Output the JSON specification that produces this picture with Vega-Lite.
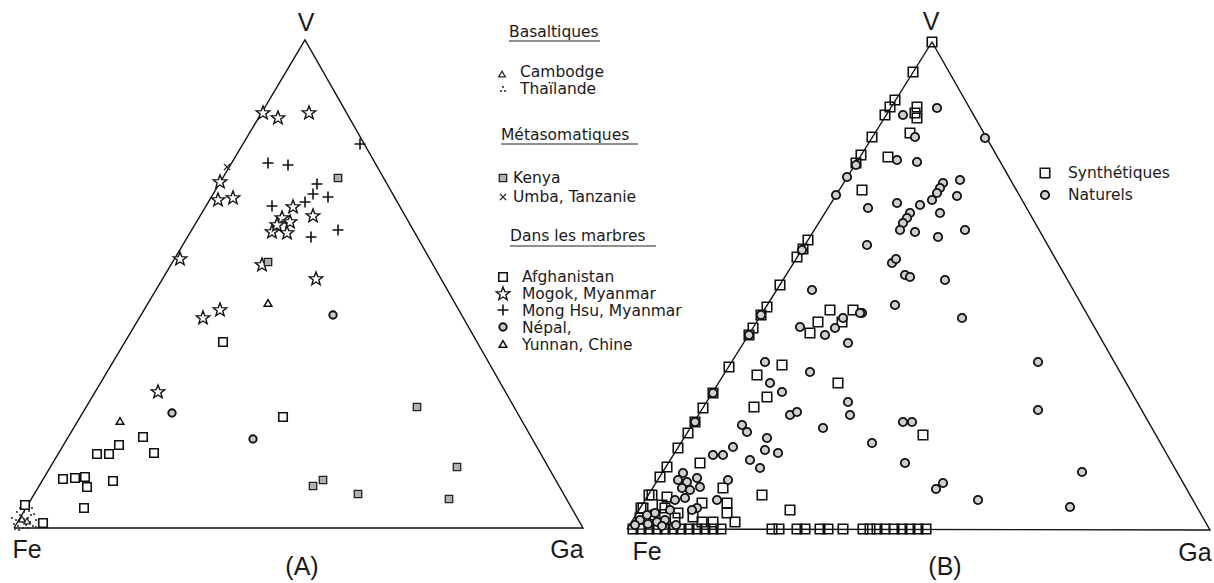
{
"$schema": "https://vega.github.io/schema/vega-lite/v6.json",
"width": 1214, "height": 583,
"autosize": {"type": "fit", "contains": "padding"},
"padding": 0,
"background": "white",
"config": {"view": {"stroke": null}},
"datasets": {
"tri": [
{"tri":"A","o":0,"x":14,"y":528},{"tri":"A","o":1,"x":305,"y":40},{"tri":"A","o":2,"x":583,"y":528},{"tri":"A","o":3,"x":14,"y":528},
{"tri":"B","o":0,"x":627,"y":529},{"tri":"B","o":1,"x":932,"y":42},{"tri":"B","o":2,"x":1210,"y":530},{"tri":"B","o":3,"x":627,"y":529}
],
"pts": [
{"x":16,"y":520,"s":"thai"},{"x":20,"y":515,"s":"thai"},{"x":24,"y":512,"s":"thai"},{"x":28,"y":518,"s":"thai"},{"x":32,"y":508,"s":"thai"},{"x":18,"y":526,"s":"thai"},{"x":22,"y":522,"s":"thai"},{"x":26,"y":525,"s":"thai"},{"x":30,"y":522,"s":"thai"},{"x":34,"y":514,"s":"thai"},{"x":14,"y":524,"s":"thai"},{"x":36,"y":520,"s":"thai"},{"x":20,"y":508,"s":"thai"},{"x":28,"y":528,"s":"thai"},{"x":12,"y":518,"s":"thai"},{"x":24,"y":519,"s":"thai"},{"x":33,"y":526,"s":"thai"},{"x":17,"y":512,"s":"thai"},{"x":31,"y":515,"s":"thai"},{"x":19,"y":530,"s":"thai"},{"x":25,"y":506,"s":"thai"},{"x":36,"y":527,"s":"thai"},{"x":21,"y":517,"s":"thai"},{"x":29,"y":511,"s":"thai"},{"x":15,"y":529,"s":"thai"},{"x":23,"y":528,"s":"thai"},
{"x":501,"y":91,"s":"thai"},{"x":505,"y":91,"s":"thai"},{"x":503,"y":87,"s":"thai"},
{"x":22,"y":519,"s":"camb"},{"x":27,"y":521,"s":"camb"},{"x":502,"y":74,"s":"camb"},
{"x":223,"y":342,"s":"afg"},{"x":283,"y":417,"s":"afg"},{"x":143,"y":437,"s":"afg"},{"x":154,"y":453,"s":"afg"},{"x":119,"y":445,"s":"afg"},{"x":109,"y":454,"s":"afg"},{"x":97,"y":454,"s":"afg"},{"x":63,"y":479,"s":"afg"},{"x":75,"y":478,"s":"afg"},{"x":85,"y":477,"s":"afg"},{"x":87,"y":487,"s":"afg"},{"x":113,"y":481,"s":"afg"},{"x":84,"y":508,"s":"afg"},{"x":25,"y":505,"s":"afg"},{"x":43,"y":523,"s":"afg"},{"x":503,"y":277,"s":"afg"},
{"x":263,"y":113,"s":"mogok"},{"x":278,"y":118,"s":"mogok"},{"x":309,"y":113,"s":"mogok"},{"x":220,"y":182,"s":"mogok"},{"x":218,"y":200,"s":"mogok"},{"x":233,"y":198,"s":"mogok"},{"x":293,"y":207,"s":"mogok"},{"x":282,"y":218,"s":"mogok"},{"x":290,"y":222,"s":"mogok"},{"x":313,"y":216,"s":"mogok"},{"x":272,"y":232,"s":"mogok"},{"x":287,"y":233,"s":"mogok"},{"x":277,"y":225,"s":"mogok"},{"x":180,"y":259,"s":"mogok"},{"x":262,"y":265,"s":"mogok"},{"x":316,"y":279,"s":"mogok"},{"x":220,"y":310,"s":"mogok"},{"x":203,"y":318,"s":"mogok"},{"x":158,"y":392,"s":"mogok"},{"x":503,"y":294,"s":"mogok"},
{"x":268,"y":163,"s":"monghsu"},{"x":288,"y":165,"s":"monghsu"},{"x":317,"y":184,"s":"monghsu"},{"x":313,"y":194,"s":"monghsu"},{"x":328,"y":197,"s":"monghsu"},{"x":305,"y":202,"s":"monghsu"},{"x":272,"y":206,"s":"monghsu"},{"x":311,"y":237,"s":"monghsu"},{"x":338,"y":230,"s":"monghsu"},{"x":360,"y":144,"s":"monghsu"},{"x":503,"y":310,"s":"monghsu"},
{"x":227,"y":167,"s":"umba"},{"x":503,"y":197,"s":"umba"},
{"x":338,"y":178,"s":"kenya"},{"x":268,"y":262,"s":"kenya"},{"x":417,"y":407,"s":"kenya"},{"x":323,"y":480,"s":"kenya"},{"x":313,"y":486,"s":"kenya"},{"x":358,"y":494,"s":"kenya"},{"x":457,"y":467,"s":"kenya"},{"x":449,"y":499,"s":"kenya"},{"x":503,"y":178,"s":"kenya"},
{"x":333,"y":315,"s":"nepal"},{"x":172,"y":413,"s":"nepal"},{"x":253,"y":439,"s":"nepal"},{"x":503,"y":327,"s":"nepal"},
{"x":268,"y":303,"s":"yunnan"},{"x":120,"y":421,"s":"yunnan"},{"x":503,"y":344,"s":"yunnan"},

{"x":932,"y":42,"s":"syn"},{"x":913,"y":72,"s":"syn"},{"x":895,"y":100,"s":"syn"},{"x":890,"y":107,"s":"syn"},{"x":885,"y":115,"s":"syn"},{"x":872,"y":137,"s":"syn"},{"x":861,"y":155,"s":"syn"},{"x":856,"y":163,"s":"syn"},{"x":808,"y":240,"s":"syn"},{"x":803,"y":249,"s":"syn"},{"x":797,"y":257,"s":"syn"},{"x":780,"y":285,"s":"syn"},{"x":767,"y":307,"s":"syn"},{"x":761,"y":315,"s":"syn"},{"x":753,"y":328,"s":"syn"},{"x":749,"y":335,"s":"syn"},{"x":729,"y":367,"s":"syn"},{"x":713,"y":393,"s":"syn"},{"x":703,"y":408,"s":"syn"},{"x":695,"y":422,"s":"syn"},{"x":688,"y":433,"s":"syn"},{"x":678,"y":448,"s":"syn"},{"x":667,"y":467,"s":"syn"},{"x":660,"y":477,"s":"syn"},{"x":649,"y":495,"s":"syn"},{"x":641,"y":508,"s":"syn"},
{"x":915,"y":113,"s":"syn"},{"x":917,"y":107,"s":"syn"},{"x":917,"y":118,"s":"syn"},{"x":910,"y":133,"s":"syn"},{"x":888,"y":157,"s":"syn"},{"x":862,"y":190,"s":"syn"},{"x":830,"y":310,"s":"syn"},{"x":818,"y":322,"s":"syn"},{"x":842,"y":322,"s":"syn"},{"x":810,"y":333,"s":"syn"},{"x":853,"y":310,"s":"syn"},{"x":782,"y":365,"s":"syn"},{"x":757,"y":375,"s":"syn"},{"x":767,"y":397,"s":"syn"},{"x":754,"y":407,"s":"syn"},{"x":838,"y":383,"s":"syn"},{"x":923,"y":435,"s":"syn"},{"x":700,"y":463,"s":"syn"},{"x":723,"y":488,"s":"syn"},{"x":727,"y":503,"s":"syn"},{"x":727,"y":513,"s":"syn"},{"x":735,"y":522,"s":"syn"},{"x":762,"y":495,"s":"syn"},{"x":790,"y":510,"s":"syn"},{"x":702,"y":503,"s":"syn"},{"x":667,"y":497,"s":"syn"},{"x":665,"y":508,"s":"syn"},
{"x":652,"y":495,"s":"syn"},{"x":643,"y":508,"s":"syn"},{"x":662,"y":505,"s":"syn"},{"x":678,"y":513,"s":"syn"},{"x":693,"y":517,"s":"syn"},{"x":702,"y":522,"s":"syn"},{"x":713,"y":522,"s":"syn"},{"x":675,"y":518,"s":"syn"},{"x":640,"y":518,"s":"syn"},{"x":655,"y":515,"s":"syn"},
{"x":633,"y":529,"s":"syn"},{"x":641,"y":529,"s":"syn"},{"x":649,"y":529,"s":"syn"},{"x":657,"y":529,"s":"syn"},{"x":665,"y":529,"s":"syn"},{"x":673,"y":529,"s":"syn"},{"x":681,"y":529,"s":"syn"},{"x":689,"y":529,"s":"syn"},{"x":697,"y":529,"s":"syn"},{"x":705,"y":529,"s":"syn"},{"x":713,"y":529,"s":"syn"},{"x":721,"y":529,"s":"syn"},
{"x":772,"y":529,"s":"syn"},{"x":779,"y":529,"s":"syn"},{"x":797,"y":529,"s":"syn"},{"x":805,"y":529,"s":"syn"},{"x":820,"y":529,"s":"syn"},{"x":828,"y":529,"s":"syn"},{"x":843,"y":529,"s":"syn"},{"x":863,"y":529,"s":"syn"},{"x":870,"y":529,"s":"syn"},{"x":877,"y":529,"s":"syn"},{"x":885,"y":529,"s":"syn"},{"x":894,"y":529,"s":"syn"},{"x":902,"y":529,"s":"syn"},{"x":910,"y":529,"s":"syn"},{"x":918,"y":529,"s":"syn"},{"x":926,"y":529,"s":"syn"},
{"x":1045,"y":173,"s":"syn"},

{"x":856,"y":165,"s":"nat"},{"x":847,"y":177,"s":"nat"},{"x":836,"y":195,"s":"nat"},{"x":802,"y":250,"s":"nat"},{"x":761,"y":315,"s":"nat"},{"x":749,"y":335,"s":"nat"},{"x":713,"y":393,"s":"nat"},{"x":695,"y":422,"s":"nat"},
{"x":903,"y":115,"s":"nat"},{"x":937,"y":108,"s":"nat"},{"x":915,"y":137,"s":"nat"},{"x":897,"y":160,"s":"nat"},{"x":917,"y":162,"s":"nat"},{"x":985,"y":138,"s":"nat"},{"x":960,"y":180,"s":"nat"},{"x":943,"y":183,"s":"nat"},{"x":940,"y":188,"s":"nat"},{"x":937,"y":193,"s":"nat"},{"x":932,"y":200,"s":"nat"},{"x":957,"y":196,"s":"nat"},{"x":868,"y":208,"s":"nat"},{"x":897,"y":203,"s":"nat"},{"x":920,"y":205,"s":"nat"},{"x":940,"y":213,"s":"nat"},{"x":910,"y":213,"s":"nat"},{"x":907,"y":218,"s":"nat"},{"x":903,"y":223,"s":"nat"},{"x":900,"y":230,"s":"nat"},{"x":915,"y":232,"s":"nat"},{"x":938,"y":237,"s":"nat"},{"x":965,"y":230,"s":"nat"},{"x":867,"y":245,"s":"nat"},{"x":892,"y":263,"s":"nat"},{"x":896,"y":259,"s":"nat"},{"x":905,"y":275,"s":"nat"},{"x":910,"y":277,"s":"nat"},{"x":945,"y":280,"s":"nat"},{"x":895,"y":305,"s":"nat"},{"x":862,"y":313,"s":"nat"},{"x":962,"y":318,"s":"nat"},{"x":1038,"y":362,"s":"nat"},{"x":1038,"y":410,"s":"nat"},{"x":903,"y":422,"s":"nat"},{"x":912,"y":422,"s":"nat"},{"x":872,"y":443,"s":"nat"},{"x":905,"y":463,"s":"nat"},{"x":943,"y":483,"s":"nat"},{"x":936,"y":489,"s":"nat"},{"x":978,"y":500,"s":"nat"},{"x":1082,"y":472,"s":"nat"},{"x":1070,"y":507,"s":"nat"},
{"x":812,"y":290,"s":"nat"},{"x":800,"y":327,"s":"nat"},{"x":825,"y":335,"s":"nat"},{"x":835,"y":328,"s":"nat"},{"x":843,"y":318,"s":"nat"},{"x":860,"y":313,"s":"nat"},{"x":848,"y":343,"s":"nat"},{"x":765,"y":362,"s":"nat"},{"x":810,"y":372,"s":"nat"},{"x":770,"y":383,"s":"nat"},{"x":782,"y":392,"s":"nat"},{"x":790,"y":415,"s":"nat"},{"x":797,"y":412,"s":"nat"},{"x":848,"y":402,"s":"nat"},{"x":850,"y":415,"s":"nat"},{"x":823,"y":428,"s":"nat"},{"x":742,"y":425,"s":"nat"},{"x":747,"y":432,"s":"nat"},{"x":767,"y":438,"s":"nat"},{"x":713,"y":455,"s":"nat"},{"x":723,"y":455,"s":"nat"},{"x":733,"y":447,"s":"nat"},{"x":765,"y":450,"s":"nat"},{"x":778,"y":453,"s":"nat"},{"x":750,"y":460,"s":"nat"},{"x":760,"y":468,"s":"nat"},
{"x":678,"y":480,"s":"nat"},{"x":687,"y":482,"s":"nat"},{"x":682,"y":488,"s":"nat"},{"x":690,"y":490,"s":"nat"},{"x":697,"y":478,"s":"nat"},{"x":700,"y":487,"s":"nat"},{"x":685,"y":498,"s":"nat"},{"x":675,"y":500,"s":"nat"},{"x":670,"y":510,"s":"nat"},{"x":655,"y":513,"s":"nat"},{"x":647,"y":515,"s":"nat"},{"x":640,"y":520,"s":"nat"},{"x":657,"y":522,"s":"nat"},{"x":665,"y":520,"s":"nat"},{"x":697,"y":508,"s":"nat"},{"x":717,"y":500,"s":"nat"},{"x":728,"y":480,"s":"nat"},{"x":692,"y":510,"s":"nat"},{"x":683,"y":473,"s":"nat"},{"x":648,"y":524,"s":"nat"},{"x":662,"y":526,"s":"nat"},{"x":676,"y":525,"s":"nat"},{"x":635,"y":525,"s":"nat"},
{"x":1045,"y":195,"s":"nat"}
],
"vlabels": [
{"x":27,"y":550,"t":"Fe"},{"x":567,"y":550,"t":"Ga"},{"x":306,"y":23,"t":"V"},{"x":302,"y":567,"t":"(A)"},
{"x":647,"y":552,"t":"Fe"},{"x":1195,"y":553,"t":"Ga"},{"x":931,"y":22,"t":"V"},{"x":945,"y":567,"t":"(B)"}
],
"legtext": [
{"x":509,"y":32,"t":"Basaltiques"},{"x":520,"y":72,"t":"Cambodge"},{"x":520,"y":89,"t":"Thaïlande"},
{"x":501,"y":135,"t":"Métasomatiques"},{"x":513,"y":178,"t":"Kenya"},{"x":513,"y":197,"t":"Umba, Tanzanie"},
{"x":510,"y":236,"t":"Dans les marbres"},{"x":522,"y":277,"t":"Afghanistan"},{"x":522,"y":294,"t":"Mogok, Myanmar"},{"x":522,"y":311,"t":"Mong Hsu, Myanmar"},{"x":522,"y":328,"t":"Népal,"},{"x":522,"y":345,"t":"Yunnan, Chine"},
{"x":1068,"y":173,"t":"Synthétiques"},{"x":1068,"y":195,"t":"Naturels"}
],
"underlines": [
{"x":509,"x2":600,"y":41},{"x":501,"x2":638,"y":144},{"x":510,"x2":656,"y":246}
]
},
"layer": [
{
"data": {"name": "tri"},
"mark": {"type": "line", "stroke": "#111", "strokeWidth": 1.4},
"encoding": {
"x": {"field": "x", "type": "quantitative", "scale": {"domain": [0, 1214], "nice": false, "zero": false}, "axis": null},
"y": {"field": "y", "type": "quantitative", "scale": {"domain": [0, 583], "reverse": true, "nice": false, "zero": false}, "axis": null},
"detail": {"field": "tri"},
"order": {"field": "o", "type": "quantitative"}
}
},
{
"data": {"name": "underlines"},
"mark": {"type": "rule", "stroke": "#222", "strokeWidth": 1.2},
"encoding": {"x": {"field": "x", "type": "quantitative"}, "x2": {"field": "x2"}, "y": {"field": "y", "type": "quantitative"}}
},
{
"data": {"name": "pts"}, "transform": [{"filter": "datum.s == 'thai'"}],
"mark": {"type": "point", "shape": "circle", "size": 5, "filled": true, "fill": "#333", "strokeWidth": 0, "opacity": 1},
"encoding": {"x": {"field": "x", "type": "quantitative"}, "y": {"field": "y", "type": "quantitative"}}
},
{
"data": {"name": "pts"}, "transform": [{"filter": "datum.s == 'camb'"}],
"mark": {"type": "point", "shape": "triangle-up", "size": 45, "fill": "white", "stroke": "#222", "strokeWidth": 1.2, "opacity": 1},
"encoding": {"x": {"field": "x", "type": "quantitative"}, "y": {"field": "y", "type": "quantitative"}}
},
{
"data": {"name": "pts"}, "transform": [{"filter": "datum.s == 'afg'"}],
"mark": {"type": "point", "shape": "square", "size": 72, "fill": "white", "stroke": "#111", "strokeWidth": 1.6, "opacity": 1},
"encoding": {"x": {"field": "x", "type": "quantitative"}, "y": {"field": "y", "type": "quantitative"}}
},
{
"data": {"name": "pts"}, "transform": [{"filter": "datum.s == 'mogok'"}],
"mark": {"type": "point", "shape": "M0,-1L0.247,-0.34L0.951,-0.309L0.4,0.13L0.588,0.809L0,0.42L-0.588,0.809L-0.4,0.13L-0.951,-0.309L-0.247,-0.34Z", "size": 200, "fill": "white", "stroke": "#111", "strokeWidth": 1.4, "opacity": 1},
"encoding": {"x": {"field": "x", "type": "quantitative"}, "y": {"field": "y", "type": "quantitative"}}
},
{
"data": {"name": "pts"}, "transform": [{"filter": "datum.s == 'monghsu'"}],
"mark": {"type": "point", "shape": "M-1,0L1,0M0,-1L0,1", "size": 120, "fill": "transparent", "stroke": "#111", "strokeWidth": 1.6, "opacity": 1},
"encoding": {"x": {"field": "x", "type": "quantitative"}, "y": {"field": "y", "type": "quantitative"}}
},
{
"data": {"name": "pts"}, "transform": [{"filter": "datum.s == 'umba'"}],
"mark": {"type": "point", "shape": "M-0.8,-0.8L0.8,0.8M-0.8,0.8L0.8,-0.8", "size": 60, "fill": "transparent", "stroke": "#222", "strokeWidth": 1.3, "opacity": 1},
"encoding": {"x": {"field": "x", "type": "quantitative"}, "y": {"field": "y", "type": "quantitative"}}
},
{
"data": {"name": "pts"}, "transform": [{"filter": "datum.s == 'kenya'"}],
"mark": {"type": "point", "shape": "square", "size": 55, "fill": "#b0b0b0", "stroke": "#222", "strokeWidth": 1.3, "opacity": 1},
"encoding": {"x": {"field": "x", "type": "quantitative"}, "y": {"field": "y", "type": "quantitative"}}
},
{
"data": {"name": "pts"}, "transform": [{"filter": "datum.s == 'nepal'"}],
"mark": {"type": "point", "shape": "circle", "size": 55, "fill": "#c8c8c8", "stroke": "#111", "strokeWidth": 1.9, "opacity": 1},
"encoding": {"x": {"field": "x", "type": "quantitative"}, "y": {"field": "y", "type": "quantitative"}}
},
{
"data": {"name": "pts"}, "transform": [{"filter": "datum.s == 'yunnan'"}],
"mark": {"type": "point", "shape": "triangle-up", "size": 60, "fill": "white", "stroke": "#111", "strokeWidth": 1.5, "opacity": 1},
"encoding": {"x": {"field": "x", "type": "quantitative"}, "y": {"field": "y", "type": "quantitative"}}
},
{
"data": {"name": "pts"}, "transform": [{"filter": "datum.s == 'syn'"}],
"mark": {"type": "point", "shape": "square", "size": 90, "fill": "transparent", "stroke": "#111", "strokeWidth": 1.6, "opacity": 1},
"encoding": {"x": {"field": "x", "type": "quantitative"}, "y": {"field": "y", "type": "quantitative"}}
},
{
"data": {"name": "pts"}, "transform": [{"filter": "datum.s == 'nat'"}],
"mark": {"type": "point", "shape": "circle", "size": 70, "fill": "#cfcfcf", "stroke": "#111", "strokeWidth": 1.8, "opacity": 1},
"encoding": {"x": {"field": "x", "type": "quantitative"}, "y": {"field": "y", "type": "quantitative"}}
},
{
"data": {"name": "vlabels"},
"mark": {"type": "text", "font": "Liberation Sans", "fontSize": 25, "align": "center", "baseline": "middle", "fill": "#1a1a1a"},
"encoding": {"x": {"field": "x", "type": "quantitative"}, "y": {"field": "y", "type": "quantitative"}, "text": {"field": "t"}}
},
{
"data": {"name": "legtext"},
"mark": {"type": "text", "font": "DejaVu Sans", "fontSize": 15.5, "align": "left", "baseline": "middle", "fill": "#1a1a1a"},
"encoding": {"x": {"field": "x", "type": "quantitative"}, "y": {"field": "y", "type": "quantitative"}, "text": {"field": "t"}}
}
]
}
